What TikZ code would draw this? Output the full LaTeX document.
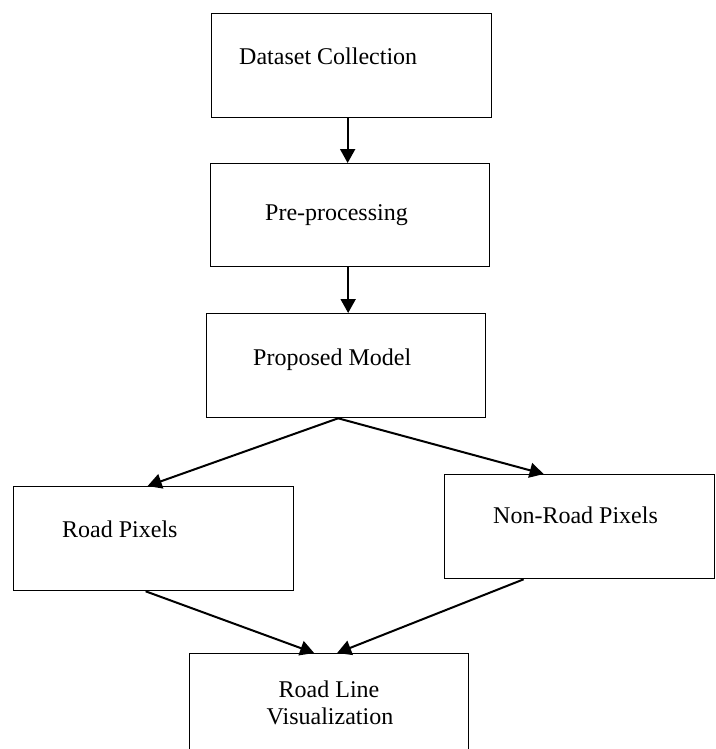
\documentclass[tikz,border=0pt]{standalone}
\usepackage{fontspec}
\setmainfont{Liberation Serif}
\usetikzlibrary{arrows.meta}
\begin{document}
\begin{tikzpicture}[x=1pt,y=-1pt,
  box/.style={draw=black, line width=1.3pt, rectangle, inner sep=0pt, anchor=north west, fill=white},
  lbl/.style={anchor=base west, inner sep=0pt, font=\fontsize{24}{27}\selectfont},
  flow/.style={line width=2pt, -{Triangle[length=14pt,width=15pt]}}]
\clip (0,0) rectangle (715,749);
\fill[white] (0,0) rectangle (715,749);
% boxes
\node[box, minimum width=280pt, minimum height=104pt] (b1) at (211,13) {};
\node[box, minimum width=279pt, minimum height=103pt] (b2) at (210,163) {};
\node[box, minimum width=279pt, minimum height=104pt] (b3) at (206,313) {};
\node[box, minimum width=280pt, minimum height=104pt] (b4) at (13,486) {};
\node[box, minimum width=270pt, minimum height=104pt] (b5) at (444,474) {};
\node[box, minimum width=279pt, minimum height=104pt] (b6) at (189,653) {};
% labels
\node[lbl] (t1) at (239,65) {Dataset Collection};
\node[lbl] (t2) at (265,220) {Pre-processing};
\node[lbl] (t3) at (253,365) {Proposed Model};
\node[lbl] (t4) at (62,537) {Road Pixels};
\node[lbl] (t5) at (493,523) {Non-Road Pixels};
\node[lbl, anchor=base] (t6a) at (329,697) {Road Line};
\node[lbl, anchor=base] (t6b) at (330,724) {Visualization};
% connectors
\draw[flow] ([xshift=-4pt]b1.south) -- ([xshift=-4pt]b1.south |- b2.north);
\draw[flow] ([xshift=-2pt]b2.south) -- ([xshift=-2pt]b2.south |- b3.north);
\draw[flow] ([xshift=-8pt]b3.south) -- ([xshift=-6pt]b4.north);
\draw[flow] ([xshift=-8pt]b3.south) -- ([xshift=-36pt]b5.north);
\draw[flow] ([xshift=-8pt]b4.south) -- ([xshift=-15pt]b6.north);
\draw[flow] ([xshift=-56pt]b5.south) -- ([xshift=8pt]b6.north);
\end{tikzpicture}
\end{document}
